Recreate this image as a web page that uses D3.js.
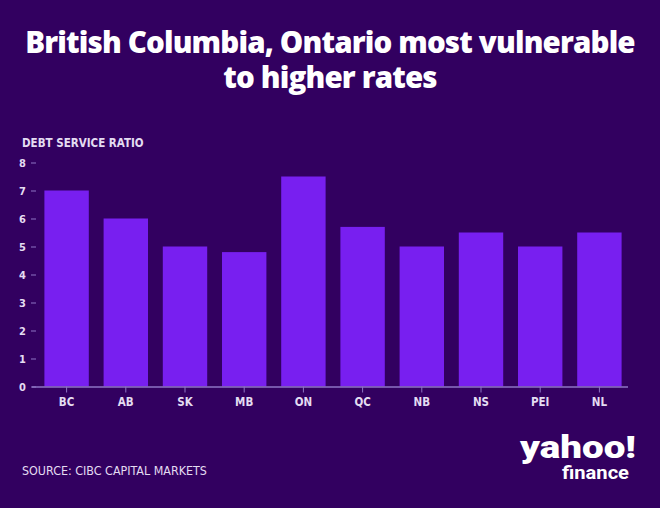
<!DOCTYPE html>
<html>
<head>
<meta charset="utf-8">
<script src="https://cdn.jsdelivr.net/npm/d3@7"></script>
<style>
  html, body { margin: 0; padding: 0; background: #320060; }
  svg { display: block; }
</style>
</head>
<body>
<svg></svg>
<script>
// Data
const provinces = ["BC", "AB", "SK", "MB", "ON", "QC", "NB", "NS", "PEI", "NL"];
const debtServiceRatio = [7, 6, 5, 4.8, 7.5, 5.7, 5, 5.5, 5, 5.5];
const yTicks = [0, 1, 2, 3, 4, 5, 6, 7, 8];
const titleLines = ["British Columbia, Ontario most vulnerable", "to higher rates"];

const width = 660, height = 508;
const bg = "#320060", barColor = "#781ff0", textColor = "#e4dcf2", axisColor = "#8e74c4";
const narrow = "'Liberation Sans Narrow', 'DejaVu Sans Condensed', sans-serif";

const svg = d3.select("svg")
    .attr("width", width)
    .attr("height", height);

svg.append("rect")
    .attr("width", width)
    .attr("height", height)
    .attr("fill", bg);

// Title
const title = svg.append("g")
  .selectAll("text")
  .data(titleLines)
  .enter()
  .append("text")
    .attr("x", width / 2)
    .attr("y", (d, i) => 53 + i * 35)
    .attr("text-anchor", "middle")
    .attr("fill", "#ffffff")
    .attr("font-family", "'Open Sans', sans-serif")
    .attr("font-weight", 800)
    .attr("font-size", 28)
    .attr("letter-spacing", -0.8)
    .text(d => d);

// fit the first line to the reference width (~610px)
const w0 = title.nodes()[0].getComputedTextLength();
const fs = 28 * 610 / w0;
title.attr("font-size", fs).attr("letter-spacing", -0.8 * fs / 28);

// Scales
const x = d3.scaleBand()
  .domain(provinces)
  .range([37, 629])
  .paddingInner(0.25)
  .paddingOuter(0.125);

const y = d3.scaleLinear()
  .domain([0, 8])
  .range([386.5, 162.5]);

// Axis title
svg.append("text")
    .attr("x", 22)
    .attr("y", 147)
    .attr("fill", textColor)
    .attr("font-family", narrow)
    .attr("font-weight", 700)
    .attr("font-size", 11.5)
    .text("DEBT SERVICE RATIO");

// Y axis
const yAxis = svg.append("g")
  .attr("transform", "translate(36,0)")
  .call(d3.axisLeft(y).tickValues(yTicks).tickSize(5).tickPadding(5));
yAxis.select(".domain").remove();
yAxis.selectAll(".tick line").attr("stroke", axisColor);
yAxis.selectAll(".tick text")
    .attr("fill", textColor)
    .attr("font-family", narrow)
    .attr("font-weight", 700)
    .attr("font-size", 11);

// Bars
svg.append("g")
  .selectAll("rect")
  .data(provinces)
  .enter()
  .append("rect")
    .attr("x", d => x(d))
    .attr("y", (d, i) => y(debtServiceRatio[i]))
    .attr("width", x.bandwidth())
    .attr("height", (d, i) => y(0) - y(debtServiceRatio[i]))
    .attr("fill", barColor);

// X axis
const xAxis = svg.append("g")
  .attr("transform", `translate(0,${y(0)})`)
  .call(d3.axisBottom(x).tickSize(6).tickSizeOuter(0).tickPadding(5));
xAxis.select(".domain")
    .attr("d", "M32,0.5H628")
    .attr("stroke", axisColor)
    .attr("stroke-width", 1.5);
xAxis.selectAll(".tick line").attr("stroke", axisColor);
xAxis.selectAll(".tick text")
    .attr("fill", textColor)
    .attr("font-family", narrow)
    .attr("font-weight", 700)
    .attr("font-size", 11.5);

// Source
svg.append("text")
    .attr("x", 22)
    .attr("y", 475)
    .attr("fill", textColor)
    .attr("font-family", narrow)
    .attr("font-size", 12.4)
    .text("SOURCE: CIBC CAPITAL MARKETS");

// Logo
const logo = svg.append("g").attr("fill", "#ffffff")
    .attr("font-family", "Roboto, sans-serif");
logo.append("text")
    .attr("x", 520)
    .attr("y", 458)
    .attr("font-size", 31)
    .attr("font-weight", 900)
    .attr("textLength", 116)
    .attr("lengthAdjust", "spacingAndGlyphs")
    .text("yahoo!");
logo.append("text")
    .attr("x", 562)
    .attr("y", 479)
    .attr("font-size", 19)
    .attr("font-weight", 700)
    .attr("textLength", 67)
    .attr("lengthAdjust", "spacingAndGlyphs")
    .text("finance");
</script>
</body>
</html>
